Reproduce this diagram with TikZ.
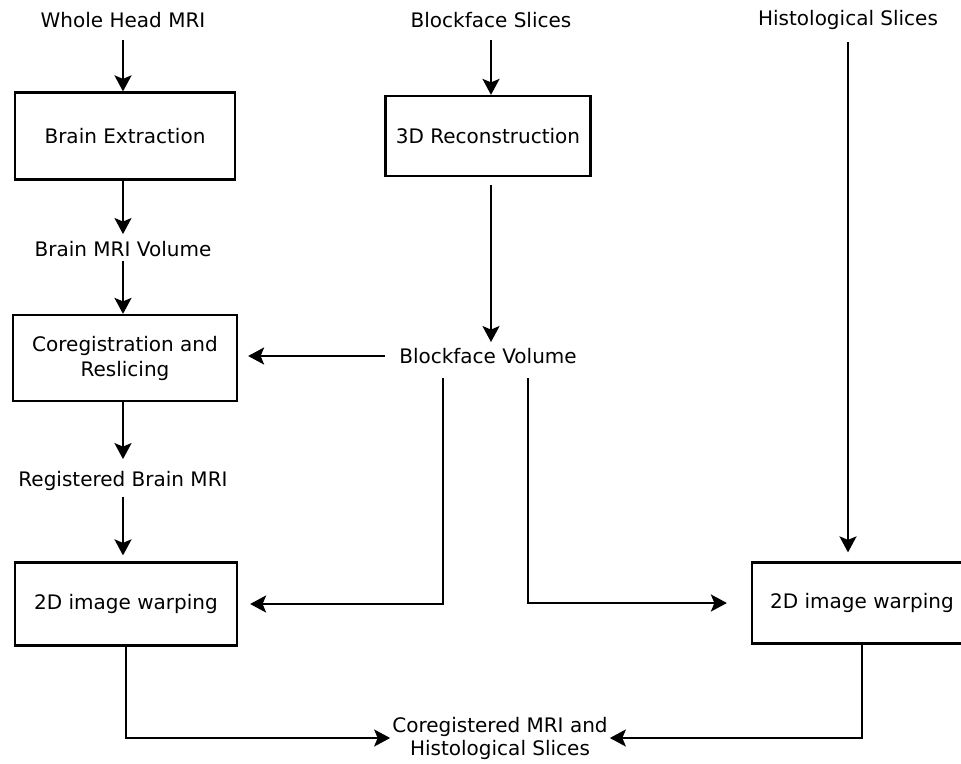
\documentclass[tikz,border=0pt]{standalone}
\usepackage{fontspec}
\setmainfont{DejaVu Sans}
\usetikzlibrary{positioning, arrows.meta}
\tikzset{
  stepbox/.style={draw=black, line width=2.2pt, fill=white, align=center, inner sep=2pt,
    font=\fontsize{20}{25}\selectfont},
  datalabel/.style={align=center, inner sep=2pt, font=\fontsize{20}{23}\selectfont},
  flowarrow/.style={-{Stealth[length=16pt, width=17pt, inset=3.5pt]}, line width=2.2pt},
}
\begin{document}
\begin{tikzpicture}[x=1pt, y=-1pt]
  \useasboundingbox[fill=white] (0,0) rectangle (961,763);
  % left column
  \node[datalabel] (whole) at (123,20) {Whole Head MRI};
  \node[stepbox, minimum width=220pt, minimum height=87pt] (extract) at (125,136) {Brain Extraction};
  \node[datalabel] (brainvol) at (123,249) {Brain MRI Volume};
  \node[stepbox, minimum width=224pt, minimum height=86pt] (coreg) at (125,358) {Coregistration and\\Reslicing};
  \node[datalabel] (regmri) at (123,481) {Registered Brain MRI};
  \node[stepbox, minimum width=222pt, minimum height=83pt] (warpL) at (126,604) {2D image warping};
  % middle column
  \node[datalabel] (slices) at (491,20) {Blockface Slices};
  \node[stepbox, minimum width=205pt, minimum height=80pt] (recon) at (488,136) {3D Reconstruction};
  \node[datalabel] (vol) at (488,356) {Blockface Volume};
  % right column
  \node[datalabel] (hist) at (848,20) {Histological Slices};
  \node[stepbox, minimum width=220pt, minimum height=81pt] (warpR) at (862,603) {2D image warping};
  % result
  \node[datalabel] (final) at (500,738) {Coregistered MRI and\\Histological Slices};
  \coordinate (volL) at (443,378);
  \coordinate (volR) at (528,378);

  \draw[flowarrow, shorten <=10pt] (whole.south) -- (whole.south |- extract.north);
  \draw[flowarrow] (whole.south |- extract.south) -- ([yshift=5pt]whole.south |- brainvol.north);
  \draw[flowarrow, shorten <=2pt] (whole.south |- brainvol.south) -- (whole.south |- coreg.north);
  \draw[flowarrow] (whole.south |- coreg.south) -- ([yshift=10pt]whole.south |- regmri.north);
  \draw[flowarrow, shorten <=4pt] (whole.south |- regmri.south) -- ([yshift=6pt]whole.south |- warpL.north);
  \draw[flowarrow, shorten <=10pt] (slices.south) -- (slices.south |- recon.north);
  \draw[flowarrow, shorten <=8pt] (slices.south |- recon.south) -- ([yshift=4pt]slices.south |- vol.north);
  \draw[flowarrow, shorten >=10pt] ([xshift=-12pt]vol.west) -- (vol.west -| coreg.east);
  \draw[flowarrow, shorten >=12pt] (volL) |- (warpL.east);
  \draw[flowarrow, shorten >=24pt] (volR) |- (warpR.west);
  \draw[flowarrow, shorten <=10pt, shorten >=9pt] (hist.south) -- (hist.south |- warpR.north);
  \draw[flowarrow] (warpL.south) |- (final.west);
  \draw[flowarrow] (warpR.south) |- (final.east);
\end{tikzpicture}
\end{document}
